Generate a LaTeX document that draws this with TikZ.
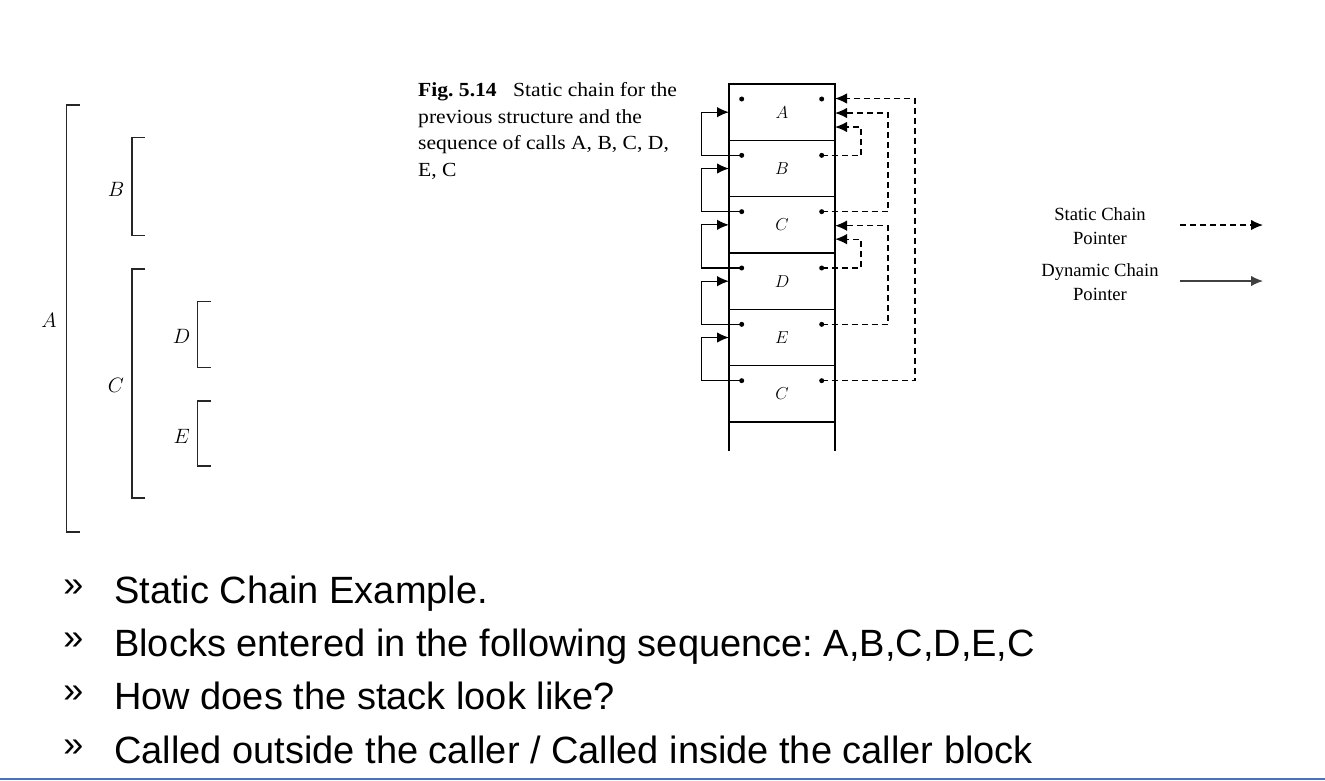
\documentclass[tikz,border=0pt]{standalone}
\usepackage{fontspec}
\setmainfont{Liberation Serif}
\newfontfamily\arial{Liberation Sans}
\newfontfamily\capfont[FakeStretch=1.08]{Liberation Serif}
\usetikzlibrary{arrows.meta,calc}
\frenchspacing
\begin{document}
\begin{tikzpicture}[x=1pt,y=-1pt,
  row/.style={draw,line width=1.4pt,minimum width=106pt,minimum height=56.33pt,inner sep=0pt,outer sep=0pt,font=\fontsize{18}{18}\selectfont},
  dyn/.style={line width=1.3pt,-{Latex[length=12pt,width=10.5pt]}},
  stat/.style={line width=1.3pt,dash pattern=on 6pt off 4pt,-{Latex[length=12pt,width=10.5pt]}},
  brk/.style={line width=1.4pt,black!85},
  blab/.style={font=\fontsize{20}{20}\selectfont},
  bul/.style={anchor=base west,font=\arial\fontsize{38}{38}\selectfont,inner sep=0pt},
  bmark/.style={anchor=center,font=\arial\fontsize{36}{36}\selectfont,inner sep=0pt},
  leg/.style={align=center,font=\fontsize{18.6}{24}\selectfont},
  dot/.style={circle,fill=black,inner sep=0pt,minimum size=5pt}
]
\path[use as bounding box] (0,0) rectangle (1325,780);

% ---------- block structure (brackets) ----------
\draw[brk] (80,105) -- (66.7,105) -- (66.7,532) -- (80,532);
\draw[brk] (145,137.7) -- (132,137.7) -- (132,235.7) -- (145,235.7);
\draw[brk] (145,269) -- (132,269) -- (132,498) -- (145,498);
\draw[brk] (211,301.7) -- (197.7,301.7) -- (197.7,367.3) -- (211,367.3);
\draw[brk] (211,401) -- (197.7,401) -- (197.7,466) -- (211,466);
\node[blab] (lA) at (49,320) {$A$};
\node[blab] (lB) at (116,189) {$B$};
\node[blab] (lC) at (116,385) {$C$};
\node[blab] (lD) at (181.7,336.7) {$D$};
\node[blab] (lE) at (181.7,436.7) {$E$};

% ---------- caption ----------
\node[anchor=base west,inner sep=0pt,align=left,font=\capfont\fontsize{20}{26.7}\selectfont] (cap) at (418,176.4)
  {\textbf{Fig. 5.14}\hspace{0.55em} Static chain for the\\previous structure and the\\sequence of calls A, B, C, D,\\E, C};

% ---------- stack ----------
\node[row] (rA)  at (782,112.17) {$A$};
\node[row] (rB)  at (782,168.5) {$B$};
\node[row] (rC)  at (782,224.83) {$C$};
\node[row] (rD)  at (782,281.17) {$D$};
\node[row] (rE)  at (782,337.5) {$E$};
\node[row] (rC2) at (782,393.83) {$C$};
\draw[line width=1.4pt] (rC2.south west) -- ++(0,29);
\draw[line width=1.4pt] (rC2.south east) -- ++(0,29);

% dots
\foreach \r in {A,B,C,D,E,C2}{
  \node[dot] (dl\r) at ($(r\r.north west)+(12.7,15)$) {};
  \node[dot] (dr\r) at ($(r\r.north east)+(-13.3,15)$) {};
}

% static chain targets
\coordinate (sA1) at ($(rA.north east)+(0,14.5)$);
\coordinate (sA2) at ($(rA.north east)+(0,29)$);
\coordinate (sA3) at ($(rA.north east)+(0,43)$);
\coordinate (sC1) at ($(rC.north east)+(0,29)$);
\coordinate (sC2) at ($(rC.north east)+(0,42.5)$);

% dynamic chain
\draw[dyn] (dlB.center)  -- ++(-40,0) |- (rA.west);
\draw[dyn] (dlC.center)  -- ++(-40,0) |- (rB.west);
\draw[dyn] (dlD.center)  -- ++(-40,0) |- (rC.west);
\draw[dyn] (dlE.center)  -- ++(-40,0) |- (rD.west);
\draw[dyn] (dlC2.center) -- ++(-40,0) |- (rE.west);

% static chain
\draw[stat] (drB.center)  -- ++(39.3,0) |- (sA3);
\draw[stat] (drC.center)  -- ++(66.3,0) |- (sA2);
\draw[stat] (drC2.center) -- ++(93.3,0) |- (sA1);
\draw[stat] (drD.center)  -- ++(39.3,0) |- (sC2);
\draw[stat] (drE.center)  -- ++(66.3,0) |- (sC1);

% ---------- legend ----------
\node[leg] (legS) at (1100,226) {Static Chain\\Pointer};
\node[leg] (legD) at (1100,282) {Dynamic Chain\\Pointer};
\coordinate (lsa) at (1180,225);
\coordinate (lsb) at (1263,225);
\coordinate (lda) at (1180,281);
\coordinate (ldb) at (1263,281);
\draw[stat] (lsa) -- (lsb);
\draw[dyn,black!75] (lda) -- (ldb);

% ---------- bullets ----------
\node[bmark] (m1) at (73.5,588) {»};
\node[bmark] (m2) at (73.5,641) {»};
\node[bmark] (m3) at (73.5,694) {»};
\node[bmark] (m4) at (73.5,748) {»};
\node[bul] (t1) at (114,603) {Static Chain Example.};
\node[bul] (t2) at (114,656) {Blocks entered in the following sequence: A,B,C,D,E,C};
\node[bul] (t3) at (114,709) {How does the stack look like?};
\node[bul] (t4) at (114,763) {Called outside the caller / Called inside the caller block};

\draw[line width=1.6pt,color={rgb,255:red,68;green,114;blue,196}] (0,779) -- (1325,779);
\end{tikzpicture}
\end{document}
